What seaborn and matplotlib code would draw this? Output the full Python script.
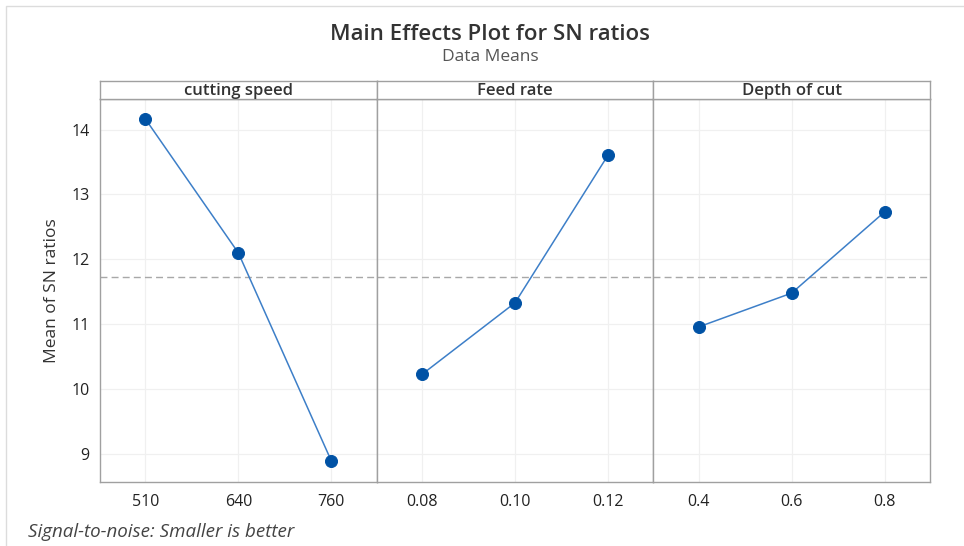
import matplotlib
matplotlib.use('Agg')
import matplotlib.pyplot as plt
import pandas as pd
import seaborn as sns
import numpy as np
from matplotlib.patches import Rectangle


factors = ['cutting speed', 'Feed rate', 'Depth of cut']
level_labels = [['510', '640', '760'], ['0.08', '0.10', '0.12'], ['0.4', '0.6', '0.8']]
sn_cutting_speed = [14.16, 12.10, 8.90]
sn_feed_rate = [10.23, 11.33, 13.60]
sn_depth_of_cut = [10.96, 11.48, 12.73]
sn_values = [sn_cutting_speed, sn_feed_rate, sn_depth_of_cut]

grand_mean = np.mean(sn_cutting_speed + sn_feed_rate + sn_depth_of_cut)

sns.set_style('white')
plt.rcParams['font.family'] = ['Open Sans', 'DejaVu Sans']

W, H = 964, 546
fig = plt.figure(figsize=(W / 100, H / 100), dpi=100)

# frame around the whole figure
fig.patches.append(Rectangle((6 / W, -0.01), 1.02, 1 - 6 / H + 0.01, transform=fig.transFigure,
                             fill=False, edgecolor='#dcdcdc', linewidth=1.0))

left, right, bottom, top, strip_top = 100, 930, 482, 99, 81
pw = (right - left) / 3

marker_col = '#0052a5'
line_col = '#3d7fc8'
spine_col = '#a0a0a0'

axes = []
for i, factor in enumerate(factors):
    x0 = left + i * pw
    ax = fig.add_axes([x0 / W, 1 - bottom / H, pw / W, (bottom - top) / H])
    axes.append(ax)
    df = pd.DataFrame({'pos': [0, 1, 2], 'level': level_labels[i], 'sn': sn_values[i]})

    ax.axhline(grand_mean, color='#a8a8a8', linestyle=(0, (5, 3)), linewidth=1.0, zorder=1)
    sns.lineplot(data=df, x='pos', y='sn', ax=ax, color=line_col, linewidth=1.1, zorder=2)
    sns.scatterplot(data=df, x='pos', y='sn', ax=ax, color=marker_col, s=75,
                    edgecolor=marker_col, zorder=3)

    ax.set_xlim(-0.49, 2.49)
    ax.set_ylim(8.57, 14.47)
    ax.set_xticks([0, 1, 2])
    ax.set_xticklabels(level_labels[i])
    ax.set_yticks([9, 10, 11, 12, 13, 14])
    ax.grid(True, color='#f0f0f0', linewidth=0.9)
    ax.set_axisbelow(True)
    ax.set_xlabel('')
    ax.set_ylabel('')
    for s in ax.spines.values():
        s.set_color(spine_col)
        s.set_linewidth(1.0)
    ax.tick_params(axis='both', direction='out', length=4, width=0.8, color='#888888',
                   labelsize=11.5, labelcolor='#222222')
    for lab in ax.get_xticklabels() + ax.get_yticklabels():
        lab.set_fontweight('medium')
    ax.tick_params(axis='x', pad=5)
    if i > 0:
        ax.tick_params(axis='y', left=False, labelleft=False)

    # strip header
    sax = fig.add_axes([x0 / W, 1 - top / H, pw / W, (top - strip_top) / H])
    sax.set_xticks([])
    sax.set_yticks([])
    for s in sax.spines.values():
        s.set_color(spine_col)
        s.set_linewidth(1.0)
    sax.text(0.5, 0.45, factor, ha='center', va='center', fontsize=12,
             fontweight='semibold', color='#333333', transform=sax.transAxes)

axes[0].set_ylabel('Mean of SN ratios', fontsize=12.5, color='#333333', labelpad=8)

fig.text(490 / W, 1 - 34 / H, 'Main Effects Plot for SN ratios', ha='center', va='center',
         fontsize=16, fontweight='semibold', color='#333333')
fig.text(490 / W, 1 - 57 / H, 'Data Means', ha='center', va='center',
         fontsize=12.5, color='#555555')
fig.text(28 / W, 1 - 532 / H, 'Signal-to-noise: Smaller is better', ha='left', va='center',
         fontsize=13.5, fontstyle='italic', color='#444444')

fig.savefig('out.png', dpi=100)
